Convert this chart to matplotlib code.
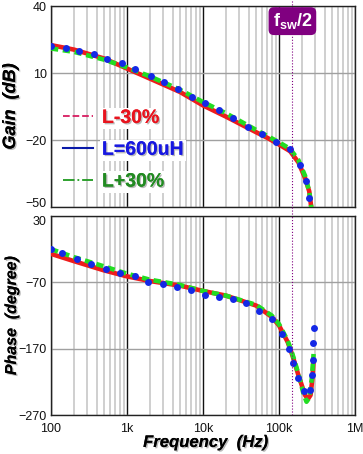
import numpy as np
import matplotlib
matplotlib.use("Agg")
import matplotlib.pyplot as plt
import matplotlib.patheffects as pe
from matplotlib.lines import Line2D
from matplotlib.ticker import LogLocator, FixedLocator, NullFormatter

plt.rcParams["font.family"] = ["Liberation Sans", "DejaVu Sans"]
plt.rcParams["mathtext.fontset"] = "custom"
plt.rcParams["mathtext.rm"] = "Liberation Sans"
plt.rcParams["mathtext.bf"] = "Liberation Sans:bold"

# -------------------------
# Data
# -------------------------
fsw_half = 150e3

# L-30% (red)
red_gain_f = [100, 200, 500, 1e3, 2e3, 5e3, 10e3, 20e3, 50e3, 70e3, 100e3, 140e3, 180e3, 220e3, 250e3, 270e3]
red_gain = [22.5, 20.5, 16.5, 12.0, 7.5, 1.5, -4.5, -9.5, -16.5, -19.0, -22.0, -25.0, -30.0, -37.0, -43.0, -52.0]
red_phase_f = [100, 200, 500, 1e3, 2e3, 5e3, 10e3, 20e3, 50e3, 80e3, 100e3, 130e3, 150e3, 180e3, 220e3, 240e3, 260e3, 275e3, 285e3]
red_phase = [-27, -38, -52, -61, -68, -75, -83, -90, -105, -122, -135, -160, -180, -210, -240, -246, -240, -215, -188]

# L+30% (green)
green_gain_f = [100, 200, 500, 1e3, 2e3, 5e3, 10e3, 20e3, 50e3, 100e3, 140e3, 180e3, 220e3, 250e3, 270e3]
green_gain = [21.0, 19.5, 16.0, 12.5, 8.5, 2.5, -3.0, -8.0, -15.5, -21.0, -24.0, -29.0, -36.0, -43.0, -52.0]
green_phase_f = [100, 200, 500, 1e3, 2e3, 5e3, 10e3, 20e3, 50e3, 80e3, 100e3, 130e3, 150e3, 180e3, 210e3, 230e3, 250e3, 270e3, 285e3]
green_phase = [-20, -32, -46, -57, -66, -74, -83, -90, -104, -120, -133, -158, -178, -208, -238, -250, -244, -215, -178]

# L=600uH (blue dots)
blue_gain_f = [100, 156, 234, 363, 550, 851, 1290, 2040, 3090, 4680, 7240, 10700, 16200, 25100,
               38900, 60300, 91200, 141000, 191000, 229000, 251000]
blue_gain = [22.2, 21.3, 19.9, 18.4, 16.1, 14.3, 11.8, 8.7, 5.8, 2.7, -0.9, -3.6, -6.6, -10.3,
             -14.2, -17.4, -20.8, -24.2, -31.2, -38.4, -45.8]
blue_phase_f = [100, 141, 219, 339, 525, 813, 1260, 1910, 2950, 4570, 6920, 10700, 16200, 24500,
                36300, 55000, 81300, 110000, 135000, 151000, 178000, 214000, 257000, 275000,
                277000, 282000, 285000]
blue_phase = [-19, -25.5, -35, -42.5, -50.5, -55.5, -60, -70, -73, -76.5, -81.5, -89, -91.5, -95.5,
              -101.5, -112.5, -125, -147.5, -170, -192, -214, -234, -232.5, -209,
              -186.5, -161.5, -139]

gain_ticks = [40, 10, -20, -50]
phase_ticks = [30, -70, -170, -270]
freq_ticks = [1e2, 1e3, 1e4, 1e5, 1e6]
freq_labels = ["100", "1k", "10k", "100k", "1M"]

RED = "#ee1c1c"
GREEN = "#22dd22"
BLUE = "#1428e6"
PURPLE = "#800080"

shadow = [pe.withSimplePatchShadow(offset=(1, -1), shadow_rgbFace="#777777", alpha=0.5), pe.Normal()]

# -------------------------
# Figure
# -------------------------
fig = plt.figure(figsize=(3.63, 4.54), dpi=100)
ax1 = fig.add_axes([0.1405, 0.544, 0.8375, 0.4427])
ax2 = fig.add_axes([0.1405, 0.0859, 0.8375, 0.4383])


def style_axis(ax, yticks):
    ax.set_xscale("log")
    ax.set_xlim(100, 1e6)
    ax.set_ylim(yticks[-1], yticks[0])
    ax.set_yticks(yticks)
    ax.xaxis.set_major_locator(FixedLocator(freq_ticks))
    ax.xaxis.set_minor_locator(LogLocator(base=10, subs=np.arange(2, 10)))
    ax.xaxis.set_minor_formatter(NullFormatter())
    ax.grid(True, which="minor", axis="x", color="#cccccc", lw=1.3)
    ax.grid(True, which="major", axis="x", color="#111111", lw=1.0)
    ax.grid(True, which="major", axis="y", color="#a0a0a0", lw=1.0)
    ax.set_axisbelow(True)
    ax.tick_params(which="both", length=0, labelsize=9, pad=3, colors="#111111")
    for s in ax.spines.values():
        s.set_color("#222222")
        s.set_linewidth(1.0)


style_axis(ax1, gain_ticks)
style_axis(ax2, phase_ticks)
ax1.set_xticklabels([])
ax2.set_xticklabels(freq_labels)
ax2.tick_params(axis="x", pad=6)
# keep the -50 / 30 labels apart, as in the original
ax1.get_yticklabels()[-1].set_va("baseline")
ax2.get_yticklabels()[0].set_va("top")

# Gain
ax1.plot(red_gain_f, red_gain, color=RED, lw=3.3, solid_capstyle="butt", zorder=3)
ax1.plot(green_gain_f, green_gain, color=GREEN, lw=3.3, dashes=(1.6, 1.0), zorder=4)
ax1.plot(blue_gain_f, blue_gain, "o", color=BLUE, ms=5, mec="none", zorder=5)

# Phase
ax2.plot(red_phase_f, red_phase, color=RED, lw=3.3, zorder=3)
ax2.plot(green_phase_f, green_phase, color=GREEN, lw=3.3, dashes=(1.6, 1.0), zorder=4)
ax2.plot(blue_phase_f, blue_phase, "o", color=BLUE, ms=5, mec="none", zorder=5)

# fsw/2 marker line
ax1.axvline(fsw_half, ymin=-0.05, ymax=1.03, color=PURPLE, lw=0.8, ls=":", clip_on=False, zorder=6)
ax2.axvline(fsw_half, color=PURPLE, lw=0.8, ls=":", zorder=6)
ax1.text(fsw_half, 0.925, r"$\mathbf{f_{sw}/2}$", transform=ax1.get_xaxis_transform(),
         ha="center", va="center", color="white", fontsize=13, zorder=7,
         bbox=dict(boxstyle="round,pad=0.22,rounding_size=0.3", facecolor=PURPLE, edgecolor="none"))

# Legend
handles = [Line2D([], [], color="#d81b60", lw=1.3, ls="--"),
           Line2D([], [], color="#0a1aa8", lw=1.5),
           Line2D([], [], color="#1e9a1e", lw=1.3, ls="-.")]
labels = ["L-30%", "L=600uH", "L+30%"]
leg = ax1.legend(handles, labels, loc="center left", bbox_to_anchor=(-0.005, 0.284), frameon=False,
                 prop=dict(weight="bold", size=14), handlelength=1.55, handletextpad=0.45,
                 labelspacing=0.73, borderpad=0.2)
for txt, c in zip(leg.get_texts(), ["#e8141e", "#1818e0", "#228b22"]):
    txt.set_color(c)
    txt.set_path_effects(shadow)
    txt.set_bbox(dict(facecolor="white", edgecolor="none", pad=1.5))

# Axis labels
ax1.set_ylabel("Gain  (dB)", fontsize=13, fontweight="bold", fontstyle="italic", path_effects=shadow)
ax1.yaxis.set_label_coords(-0.105, 0.5)
ax2.set_ylabel("Phase  (degree)", fontsize=11.5, fontweight="bold", fontstyle="italic", path_effects=shadow)
ax2.yaxis.set_label_coords(-0.105, 0.5)
ax2.set_xlabel("Frequency  (Hz)", fontsize=12, fontweight="bold", fontstyle="italic", path_effects=shadow)
ax2.xaxis.set_label_coords(0.508, -0.10)

fig.savefig("out.png", dpi=100)
